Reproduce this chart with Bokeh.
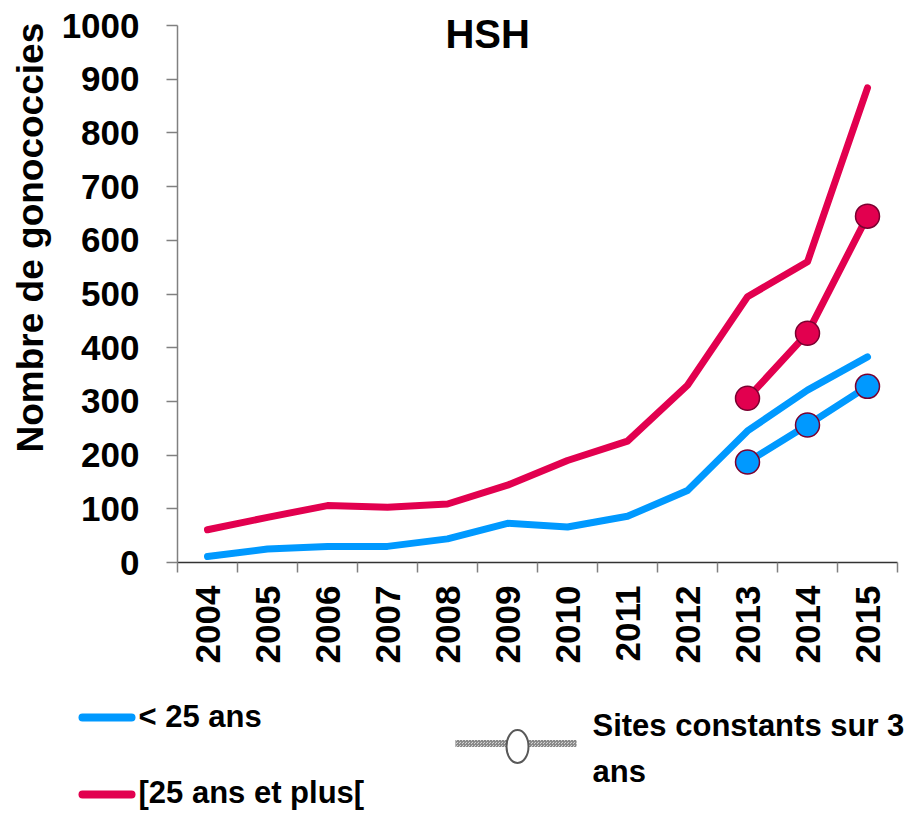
import math
from bokeh.plotting import figure
from bokeh.models import Range1d, FixedTicker, SingleIntervalTicker, Label, ColumnDataSource, Title
from bokeh.core.properties import value
from bokeh.embed import file_html
from bokeh.resources import INLINE

# ---- data ----
years = [2004, 2005, 2006, 2007, 2008, 2009, 2010, 2011, 2012, 2013, 2014, 2015]
moins_25 = [11, 25, 30, 30, 44, 73, 66, 86, 134, 245, 321, 383]
plus_25 = [61, 84, 106, 103, 109, 144, 190, 226, 330, 495, 560, 884]
years_const = [2013, 2014, 2015]
moins_25_const = [187, 256, 328]
plus_25_const = [306, 427, 645]

title_text = "HSH"
y_title = "Nombre de gonococcies"
legend_labels = ["< 25 ans", "[25 ans et plus[", "Sites constants sur 3", "ans"]

BLUE = "#0099FF"
RED = "#E2004F"
EDGE = "#7A0030"
FONT = "Liberation Sans"

# frame spans the full top of the figure so the title is not clipped;
# the axis itself is bounded to 0..1000
Y_MAX = 1000
y_end = Y_MAX * 562 / 537

p = figure(width=917, height=688, output_backend="svg", toolbar_location=None,
           x_range=Range1d(2003.5, 2015.5), y_range=Range1d(0, y_end),
           min_border_left=177, min_border_right=20, min_border_top=0, min_border_bottom=126)
p.outline_line_color = None
p.xgrid.visible = False
p.ygrid.visible = False

# lines
p.line(years, moins_25, line_color=BLUE, line_width=7, line_join="round", line_cap="round")
p.line(years, plus_25, line_color=RED, line_width=7, line_join="round", line_cap="round")
p.line(years_const, plus_25_const, line_color=RED, line_width=7, line_join="round")
p.line(years_const, moins_25_const, line_color=BLUE, line_width=7, line_join="round")
p.scatter(years_const, plus_25_const, size=24, fill_color=RED, line_color=EDGE, line_width=1.5)
p.scatter(years_const, moins_25_const, size=24, fill_color=BLUE, line_color=EDGE, line_width=1.5)

# x axis
xa = p.xaxis[0]
xa.ticker = FixedTicker(ticks=years, minor_ticks=[y - 0.5 for y in years] + [years[-1] + 0.5])
xa.major_tick_out = 0
xa.major_tick_in = 0
xa.minor_tick_out = 10
xa.minor_tick_in = 0
xa.minor_tick_line_color = "#808080"
xa.minor_tick_line_width = 1.5
xa.axis_line_color = "#333333"
xa.axis_line_width = 1.5
xa.major_label_orientation = math.pi / 2
xa.major_label_standoff = 13
xa.major_label_text_font = FONT
xa.major_label_text_font_style = "bold"
xa.major_label_text_font_size = "35px"
xa.major_label_text_color = "black"

# y axis
ya = p.yaxis[0]
ya.ticker = SingleIntervalTicker(interval=100)
ya.bounds = (0, Y_MAX)
ya.minor_tick_line_color = None
ya.major_tick_out = 11
ya.major_tick_in = 0
ya.major_tick_line_color = "#808080"
ya.major_tick_line_width = 1.5
ya.axis_line_color = "#808080"
ya.axis_line_width = 1.5
ya.major_label_standoff = 27
ya.major_label_text_font = FONT
ya.major_label_text_font_style = "bold"
ya.major_label_text_font_size = "35px"
ya.major_label_text_color = "black"

# y axis title, shifted upward as in the original
yt = Title(text=y_title, align="left", offset=110, standoff=15,
           text_font=FONT, text_font_style="bold", text_font_size="37px", text_color="black")
p.add_layout(yt, "left")

# chart title
p.add_layout(Label(x=2008.67, y=985, text=title_text, text_align="center", text_baseline="middle",
                   text_font=FONT, text_font_style="bold", text_font_size="40px", text_color="black"))

# ---- legend figure (units = page pixels, y downward) ----
lg = figure(width=917, height=127, output_backend="svg", toolbar_location=None,
            x_range=Range1d(0, 917), y_range=Range1d(815, 688),
            min_border_left=0, min_border_right=0, min_border_top=0, min_border_bottom=0,
            x_axis_type=None, y_axis_type=None)
lg.outline_line_color = None
lg.xgrid.visible = False
lg.ygrid.visible = False

lg.line([82, 131], [717, 717], line_color=BLUE, line_width=8, line_cap="round")
lg.line([82, 131], [794, 794], line_color=RED, line_width=8, line_cap="round")
lg.rect(x=[515.5], y=[743], width=121, height=7, fill_color="#d4d4d4", line_color=None,
        hatch_pattern="criss_cross", hatch_color="#8a8a8a", hatch_scale=3, hatch_weight=1)
lg.ellipse(x=[517], y=[746], width=22, height=33, fill_color="white", line_color="#595959", line_width=2)

src = ColumnDataSource(dict(x=[138, 138, 592, 592], y=[716, 792, 724.5, 771], t=legend_labels))
lg.text(x="x", y="y", text="t", source=src, text_font=value(FONT), text_font_style="bold",
        text_font_size="31px", text_baseline="middle", text_align="left", text_color="black")

open("out.html", "w").write(file_html([p, lg], INLINE))
